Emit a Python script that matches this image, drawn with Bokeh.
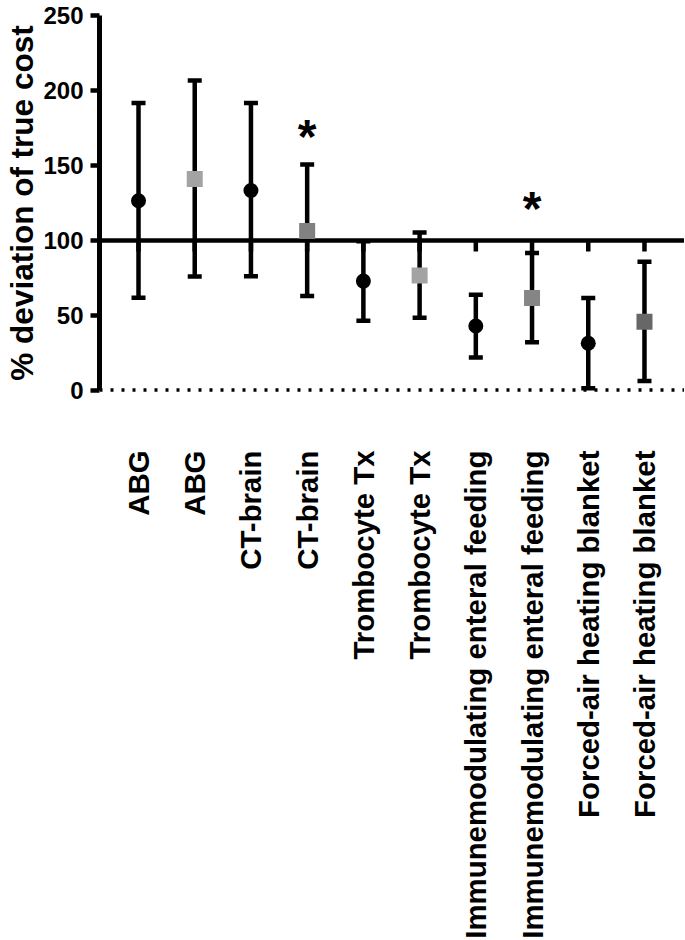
import math
from bokeh.plotting import figure
from bokeh.models import ColumnDataSource, Range1d, FixedTicker, Whisker, TeeHead, Span
from bokeh.core.properties import value
from bokeh.embed import file_html
from bokeh.resources import INLINE

# ---------------- data ----------------
categories = ["ABG", "ABG", "CT-brain", "CT-brain", "Trombocyte Tx", "Trombocyte Tx",
              "Immunemodulating enteral feeding", "Immunemodulating enteral feeding",
              "Forced-air heating blanket", "Forced-air heating blanket"]
means = [126.5, 141.0, 133.4, 106.3, 72.8, 76.5, 42.8, 61.5, 31.3, 45.6]
upper = [191.8, 206.8, 191.8, 150.8, 99.4, 105.2, 63.7, 91.5, 61.5, 85.8]
lower = [61.7, 75.9, 76.0, 62.8, 46.3, 48.3, 21.8, 31.9, 1.1, 6.0]
markers = ["circle", "square", "circle", "square", "circle", "square",
           "circle", "square", "circle", "square"]
colors = ["#000000", "#a3a3a3", "#000000", "#818181", "#000000", "#a3a3a3",
          "#000000", "#858585", "#000000", "#676767"]
sig_index = [3, 7]
sig_y = [172.6, 124.9]
reference_line = 100
y_ticks = [0, 50, 100, 150, 200, 250]

# ---------------- style ----------------
FONT = "Liberation Sans"
LW = 4.5
TICK_LEN_UNITS = 7.35

xs = list(range(len(categories)))
sizes = [15 if m == "circle" else 16 for m in markers]

src = ColumnDataSource(dict(x=xs, mean=means, upper=upper, lower=lower,
                            marker=markers, color=colors, size=sizes))

p = figure(frame_width=585, frame_height=383,
           x_range=Range1d(-0.694, 9.712), y_range=Range1d(-3, 253),
           output_backend="svg", toolbar_location=None,
           min_border_left=99, min_border_top=11, min_border_right=0, min_border_bottom=0)
p.xgrid.visible = False
p.ygrid.visible = False
p.outline_line_color = None
p.background_fill_color = "white"
p.border_fill_color = "white"

# reference line at 100 and dotted zero line
p.add_layout(Span(location=reference_line, dimension="width", line_color="black",
                  line_width=LW, level="underlay"))
p.add_layout(Span(location=0, dimension="width", line_color="black",
                  line_width=3.5, line_dash="3 8", level="underlay"))

# x ticks hanging from the 100 line
p.segment(x0=xs, y0=[reference_line] * len(xs), x1=xs,
          y1=[reference_line - TICK_LEN_UNITS] * len(xs),
          line_color="black", line_width=LW)

# error bars
wh = Whisker(base="x", upper="upper", lower="lower", source=src,
             line_color="black", line_width=LW, level="underlay",
             upper_head=TeeHead(size=14, line_width=LW, line_color="black"),
             lower_head=TeeHead(size=14, line_width=LW, line_color="black"))
p.add_layout(wh)

# markers
p.scatter(x="x", y="mean", marker="marker", size="size", fill_color="color",
          line_color=None, source=src)

# significance stars
p.text(x=[xs[i] for i in sig_index], y=sig_y, text=["*"] * len(sig_index),
       text_font=value(FONT), text_font_style="bold", text_font_size="48px",
       text_align="center", text_baseline="middle", text_color="black", y_offset=5)

# y axis
ya = p.yaxis[0]
ya.ticker = FixedTicker(ticks=y_ticks)
ya.bounds = (0, 250)
ya.axis_line_width = 5
ya.axis_line_color = "black"
ya.major_tick_line_width = LW
ya.major_tick_line_color = "black"
ya.major_tick_out = 9
ya.major_tick_in = 0
ya.minor_tick_line_color = None
ya.major_label_text_font = FONT
ya.major_label_text_font_style = "bold"
ya.major_label_text_font_size = "24px"
ya.major_label_text_color = "black"
ya.major_label_standoff = 7
ya.axis_label = "% deviation of true cost"
ya.axis_label_text_font = FONT
ya.axis_label_text_font_style = "bold"
ya.axis_label_text_font_size = "31.5px"
ya.axis_label_text_color = "black"
ya.axis_label_standoff = 0

# x axis (labels only; the visible axis line is the 100 line)
xa = p.xaxis[0]
xa.ticker = FixedTicker(ticks=xs)
xa.major_label_overrides = {i: c for i, c in zip(xs, categories)}
xa.axis_line_color = None
xa.major_tick_line_color = None
xa.minor_tick_line_color = None
xa.major_tick_out = 0
xa.major_tick_in = 0
xa.major_label_orientation = math.pi / 2
xa.major_label_standoff = 56
xa.major_label_text_font = FONT
xa.major_label_text_font_style = "bold"
xa.major_label_text_font_size = "29.4px"
xa.major_label_text_color = "black"

open("out.html", "w").write(file_html(p, INLINE))
